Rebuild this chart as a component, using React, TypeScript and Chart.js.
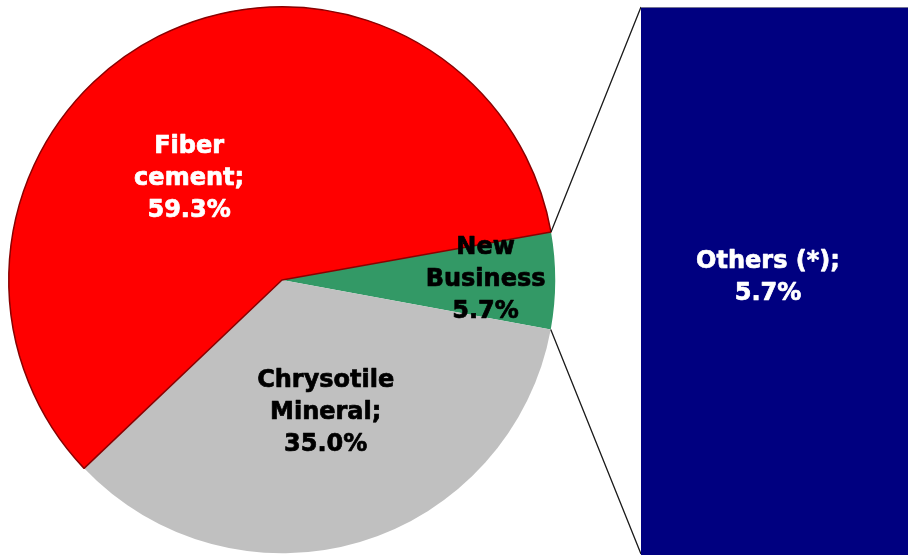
import React, { useEffect, useRef } from "react";
import { Chart, registerables } from "chart.js";

Chart.register(...registerables);

// ---- data ----
const pieCategories = ["New Business", "Chrysotile Mineral", "Fiber cement"];
const pieValues = [5.7, 35.0, 59.3];
const pieLabelLines = [["New", "Business"], ["Chrysotile", "Mineral;"], ["Fiber", "cement;"]];
const pieColors = ["#339966", "#C0C0C0", "#FF0000"];
const pieTextColors = ["#000000", "#000000", "#FFFFFF"];

const barCategories = ["Others (*)"];
const barValues = [5.7];
const barLabelLines = ["Others (*);"];
const barColor = "#000080";

const FONT = "bold 24px 'DejaVu Sans', Verdana, sans-serif";
const LINE_H = 32;

// label offsets relative to pie centre, as fractions of radius
const labelOffsets = [
  [0.745, 0.0],
  [0.16, 0.485],
  [-0.34, -0.372],
];

function drawLines(ctx: CanvasRenderingContext2D, lines: string[], x: number, y: number, color: string) {
  ctx.save();
  ctx.font = FONT;
  ctx.fillStyle = color;
  ctx.strokeStyle = color;
  ctx.lineWidth = 0.7;
  ctx.lineJoin = "round";
  ctx.textAlign = "center";
  ctx.textBaseline = "middle";
  const n = lines.length;
  lines.forEach((l, i) => {
    const yy = y + (i - (n - 1) / 2) * LINE_H;
    ctx.fillText(l, x, yy);
    ctx.strokeText(l, x, yy);
  });
  ctx.restore();
}

export default function App() {
  const pieRef = useRef<HTMLCanvasElement>(null);
  const barRef = useRef<HTMLCanvasElement>(null);

  const BAR_LEFT = 641;
  const BAR_TOP = 7;

  useEffect(() => {
    if (!pieRef.current || !barRef.current) return;

    const barLabelPlugin = {
      id: "barLabel",
      afterDatasetsDraw(chart: any) {
        const el = chart.getDatasetMeta(0).data[0];
        const ctx = chart.ctx;
        const lines = [...barLabelLines, barValues[0].toFixed(1) + "%"];
        drawLines(ctx, lines, el.x - 6.5, 278 - BAR_TOP, "#FFFFFF");
      },
    };

    const barChart = new Chart(barRef.current, {
      type: "bar",
      data: {
        labels: barCategories,
        datasets: [
          {
            data: barValues,
            backgroundColor: barColor,
            borderColor: "#9a9a9a",
            borderWidth: { top: 1, left: 0, right: 0, bottom: 0 } as any,
            barPercentage: 1,
            categoryPercentage: 1,
          },
        ],
      },
      options: {
        responsive: false,
        animation: false,
        devicePixelRatio: 1,
        layout: { padding: 0 },
        plugins: { legend: { display: false }, tooltip: { enabled: false } },
        scales: {
          x: { display: false },
          y: { display: false, min: 0, max: barValues[0] },
        },
      },
      plugins: [barLabelPlugin],
    });

    const piePlugin = {
      id: "pieExtras",
      afterDatasetsDraw(chart: any) {
        const ctx = chart.ctx;
        const arcs = chart.getDatasetMeta(0).data;
        arcs.forEach((arc: any, i: number) => {
          const r = arc.outerRadius;
          const lx = arc.x + labelOffsets[i][0] * r;
          const ly = arc.y + labelOffsets[i][1] * r;
          const lines = [...pieLabelLines[i], pieValues[i].toFixed(1) + "%"];
          drawLines(ctx, lines, lx, ly, pieTextColors[i]);
        });
        // connectors from the "others" slice to the bar
        const g = arcs[0];
        const bEl = barChart.getDatasetMeta(0).data[0] as any;
        const bx = BAR_LEFT + (bEl.x - bEl.width / 2);
        const bTop = BAR_TOP + bEl.y;
        const bBot = BAR_TOP + bEl.base;
        const R = g.outerRadius;
        const p0 = [g.x + R * Math.cos(g.startAngle), g.y + R * Math.sin(g.startAngle)];
        const p1 = [g.x + R * Math.cos(g.endAngle), g.y + R * Math.sin(g.endAngle)];
        ctx.save();
        ctx.strokeStyle = "#1a1a1a";
        ctx.lineWidth = 1.3;
        ctx.beginPath();
        ctx.moveTo(p0[0], p0[1]);
        ctx.lineTo(bx, bTop);
        ctx.moveTo(p1[0], p1[1]);
        ctx.lineTo(bx, bBot - 1);
        ctx.stroke();
        ctx.restore();
      },
    };

    const pieChart = new Chart(pieRef.current, {
      type: "pie",
      data: {
        labels: pieCategories,
        datasets: [
          {
            data: pieValues,
            backgroundColor: pieColors,
            borderColor: ["#2e8a5c", "#b8b8b8", "#8a0000"],
            borderWidth: [0, 0, 1.5],
          },
        ],
      },
      options: {
        responsive: false,
        animation: false,
        devicePixelRatio: 1,
        rotation: 79.9,
        layout: { padding: { left: 8, top: 6, right: 908 - 556, bottom: 570 - 554 } },
        plugins: { legend: { display: false }, tooltip: { enabled: false } },
      },
      plugins: [piePlugin],
    });

    return () => {
      pieChart.destroy();
      barChart.destroy();
    };
  }, []);

  return (
    <div
      style={{
        position: "fixed",
        left: 0,
        top: 0,
        width: 908,
        height: 555,
        overflow: "hidden",
        background: "#ffffff",
      }}
    >
      <canvas
        ref={pieRef}
        width={908}
        height={570}
        style={{ position: "absolute", left: 0, top: 0, width: 908, height: 570 }}
      />
      <canvas
        ref={barRef}
        width={908 - BAR_LEFT}
        height={555 - BAR_TOP}
        style={{ position: "absolute", left: BAR_LEFT, top: BAR_TOP, width: 908 - BAR_LEFT, height: 555 - BAR_TOP }}
      />
    </div>
  );
}
